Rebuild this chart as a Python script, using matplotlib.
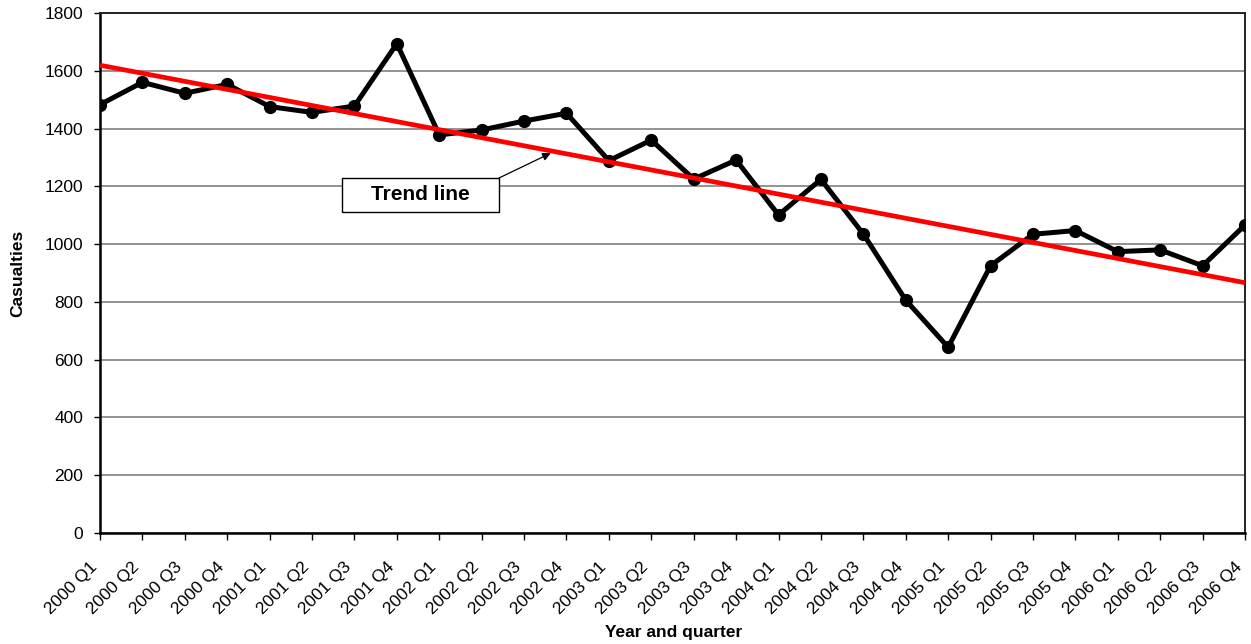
import numpy as np
import matplotlib
matplotlib.use("Agg")
import matplotlib.pyplot as plt
import matplotlib.transforms as mtransforms
from matplotlib.patches import Rectangle

plt.rcParams["font.family"] = ["Liberation Sans", "DejaVu Sans"]

# Quarterly casualties, 2000 Q1 - 2006 Q4
quarters = [f"{y} Q{q}" for y in range(2000, 2007) for q in range(1, 5)]
casualties = [1483, 1560, 1522, 1553, 1476, 1456, 1478, 1694,
              1378, 1395, 1426, 1453, 1289, 1360, 1225, 1291,
              1101, 1224, 1035, 806, 643, 925, 1034, 1047,
              974, 980, 925, 1066]
y_ticks = list(range(0, 1801, 200))

W, H = 1251, 644
fig = plt.figure(figsize=(W / 100, H / 100), dpi=100)
ax = fig.add_axes([100 / W, 1 - 533 / H, 1145 / W, 520 / H])

x = np.arange(len(quarters))
ax.plot(x, casualties, color="black", lw=3.6, marker="o", ms=8.5, zorder=3)

# Linear trend through the series
slope, intercept = np.polyfit(x, casualties, 1)
ax.plot([x[0], x[-1]], [intercept, intercept + slope * x[-1]],
        color="#FF0000", lw=3.4, zorder=4, solid_capstyle="butt")

ax.set_xlim(0, len(quarters) - 1)
ax.set_ylim(0, 1800)
ax.set_yticks(y_ticks)
ax.set_xticks(x)
ax.set_xticklabels(quarters, rotation=45, ha="right", va="top")
offset = mtransforms.ScaledTranslation(-6 / 100, 0, fig.dpi_scale_trans)
for lbl in ax.get_xticklabels():
    lbl.set_transform(lbl.get_transform() + offset)

ax.tick_params(axis="y", direction="out", length=4, width=1, labelsize=12.5, pad=8)
ax.tick_params(axis="x", direction="out", length=5, width=1, labelsize=12.5, pad=14)
ax.yaxis.grid(True, color="#808080", lw=1.2)
ax.set_axisbelow(True)
for side in ["left", "bottom"]:
    ax.spines[side].set_linewidth(1.8)
for side in ["top", "right"]:
    ax.spines[side].set_linewidth(1.4)
    ax.spines[side].set_color("#222222")

fig.text(18 / W, 1 - 273 / H, "Casualties", rotation=90, ha="center", va="center",
         fontsize=12.5, fontweight="bold")
fig.text(674 / W, 1 - 632 / H, "Year and quarter", ha="center", va="center",
         fontsize=12.5, fontweight="bold")

# Trend line callout
fig.patches.append(Rectangle((342 / W, 1 - 212 / H), 157 / W, 34 / H,
                             transform=fig.transFigure, facecolor="white",
                             edgecolor="black", lw=1, zorder=5))
fig.text(420 / W, 1 - 195 / H, "Trend line", ha="center", va="center",
         fontsize=15, fontweight="bold", zorder=6)
ax.annotate("", xy=(10.63, 1315), xycoords="data",
            xytext=(499, H - 178), textcoords="figure pixels",
            arrowprops=dict(arrowstyle="-|>", lw=0.9, color="black",
                            mutation_scale=12, shrinkA=0, shrinkB=0),
            zorder=6)

fig.savefig("out.png", dpi=100)
